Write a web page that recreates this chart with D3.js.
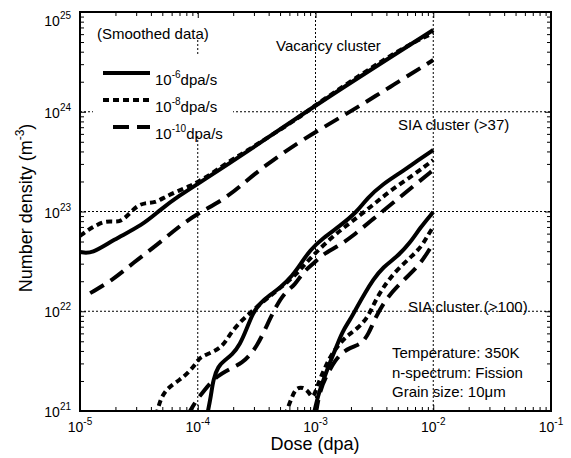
<!DOCTYPE html>
<html><head><meta charset="utf-8">
<script src="https://cdn.jsdelivr.net/npm/d3@7"></script>
<style>body{margin:0;background:#fff}svg{display:block}text{font-family:"Liberation Sans",Arial,sans-serif;fill:#000}</style>
</head><body><svg id="c" width="571" height="458"></svg>
<script>
// ---- data (dose in dpa, number density in m^-3) ----
const xTicks = [1e-5, 1e-4, 1e-3, 1e-2, 1e-1];
const xTickExp = ["-5", "-4", "-3", "-2", "-1"];
const yTicks = [1e21, 1e22, 1e23, 1e24, 1e25];
const yTickExp = ["21", "22", "23", "24", "25"];
const legendLabels = ["-6", "-8", "-10"];

// Vacancy cluster
const vac6Dose = [1e-5, 1.26e-5, 1.9e-5, 3.43e-5, 4.78e-5, 7.07e-5, 1.0e-4, 2.78e-4, 1e-3, 1e-2];
const vac6Dens = [3.93e22, 3.75e22, 5.18e22, 7.33e22, 1.04e23, 1.46e23, 1.89e23, 4.14e23, 1.17e24, 6.6e24];
const vac8Dose = [1e-5, 1.17e-5, 1.34e-5, 1.63e-5, 1.98e-5, 2.27e-5, 2.66e-5, 3.05e-5, 3.56e-5, 4.34e-5, 5.27e-5, 6.8e-5, 8.6e-5, 1e-4, 1.27e-4, 1.7e-4, 2.52e-4, 4.11e-4, 7.38e-4, 1e-3, 1.96e-3, 3.53e-3, 6.35e-3, 1e-2];
const vac8Dens = [5.68e22, 6.53e22, 7.16e22, 8.04e22, 7.85e22, 8.04e22, 9.66e22, 1.14e23, 1.22e23, 1.22e23, 1.4e23, 1.61e23, 1.8e23, 1.98e23, 2.32e23, 2.99e23, 3.95e23, 5.71e23, 8.85e23, 1.17e24, 1.99e24, 3.15e24, 4.78e24, 6.16e24];
const vac10Dose = [1.22e-5, 1.9e-5, 2.82e-5, 4.51e-5, 6.66e-5, 9.8e-5, 1.64e-4, 2.42e-4, 3.58e-4, 7.83e-4, 1.96e-3, 4.29e-3, 1e-2];
const vac10Dens = [1.52e22, 2.06e22, 3.05e22, 4.61e22, 6.84e22, 9.44e22, 1.3e23, 1.89e23, 2.79e23, 5.33e23, 9.94e23, 1.77e24, 3.3e24];

// SIA cluster (>37)
const s37_6Dose = [1.2e-4, 1.3e-4, 1.35e-4, 1.49e-4, 1.7e-4, 1.95e-4, 2.28e-4, 2.62e-4, 2.94e-4, 3.38e-4, 4.11e-4, 5.0e-4, 6.44e-4, 7.38e-4, 8.98e-4, 1.16e-3, 1.61e-3, 2.25e-3, 2.74e-3, 3.74e-3, 5.22e-3, 7.28e-3, 1e-2];
const s37_6Dens = [9.0e20, 1.45e21, 2.05e21, 2.82e21, 3.24e21, 3.64e21, 4.59e21, 6.79e21, 9.6e21, 1.21e22, 1.46e22, 1.71e22, 2.31e22, 2.91e22, 4.11e22, 5.42e22, 7.16e22, 9.89e22, 1.36e23, 1.89e23, 2.43e23, 3.21e23, 4.14e23];
const s37_8Dose = [4.45e-5, 4.78e-5, 5.48e-5, 7.07e-5, 8.59e-5, 9.86e-5, 1.045e-4, 1.35e-4, 1.64e-4, 1.88e-4, 2.28e-4, 2.78e-4, 3.38e-4, 4.11e-4, 5.0e-4, 6.97e-4, 8.98e-4, 1.41e-3, 1.96e-3, 3.02e-3, 4.29e-3, 7.0e-3, 1e-2];
const s37_8Dens = [9.0e20, 1.29e21, 1.7e21, 2.05e21, 2.52e21, 3.1e21, 3.48e21, 3.9e21, 4.49e21, 5.92e21, 7.8e21, 9.6e21, 1.18e22, 1.42e22, 1.71e22, 2.36e22, 3.42e22, 5.68e22, 7.67e22, 1.14e23, 1.61e23, 2.38e23, 3.28e23];
const s37_10Dose = [8.1e-5, 9.48e-5, 1.11e-4, 1.4e-4, 1.95e-4, 2.38e-4, 2.78e-4, 3.18e-4, 3.72e-4, 4.53e-4, 5.51e-4, 6.7e-4, 7.83e-4, 9.52e-4, 1.16e-3, 1.52e-3, 2.08e-3, 3.08e-3, 4.55e-3, 7.0e-3, 1e-2];
const s37_10Dens = [8.8e20, 1.23e21, 1.55e21, 2.19e21, 2.7e21, 3.03e21, 3.64e21, 4.49e21, 6.49e21, 1.08e22, 1.56e22, 1.83e22, 2.47e22, 2.98e22, 3.75e22, 4.41e22, 5.68e22, 8.41e22, 1.22e23, 1.85e23, 2.61e23];

// SIA cluster (>100)
const s100_6Dose = [9.6e-4, 1.03e-3, 1.09e-3, 1.25e-3, 1.47e-3, 1.68e-3, 1.96e-3, 2.25e-3, 2.63e-3, 3.08e-3, 3.74e-3, 4.92e-3, 6.35e-3, 7.71e-3, 1e-2];
const s100_6Dens = [9.0e20, 1.29e21, 1.63e21, 2.58e21, 4.09e21, 6.19e21, 8.17e21, 1.1e22, 1.52e22, 2.06e22, 2.78e22, 3.5e22, 4.83e22, 6.84e22, 9.89e22];
const s100_8Dose = [5.5e-4, 6.31e-4, 6.82e-4, 7.83e-4, 8.81e-4, 9.52e-4, 1.05e-3, 1.16e-3, 1.28e-3, 1.41e-3, 1.65e-3, 1.89e-3, 2.3e-3, 2.74e-3, 3.02e-3, 3.33e-3, 3.74e-3, 4.29e-3, 5.22e-3, 6.61e-3, 8.02e-3, 9.02e-3, 1e-2];
const s100_8Dens = [9.0e20, 1.38e21, 1.7e21, 1.74e21, 1.55e21, 1.29e21, 1.87e21, 2.46e21, 3.17e21, 3.9e21, 4.92e21, 5.78e21, 6.79e21, 8.55e21, 1.08e22, 1.36e22, 1.71e22, 2.15e22, 2.78e22, 3.58e22, 4.51e22, 5.81e22, 7.0e22];
const s100_10Dose = [1.0e-3, 1.09e-3, 1.25e-3, 1.47e-3, 1.71e-3, 1.96e-3, 2.3e-3, 2.53e-3, 2.84e-3, 3.08e-3, 3.74e-3, 5.03e-3, 7.41e-3, 9.02e-3, 1e-2];
const s100_10Dens = [9.0e20, 1.63e21, 2.3e21, 3.24e21, 3.9e21, 4.29e21, 4.59e21, 4.92e21, 6.05e21, 7.62e21, 1.21e22, 1.83e22, 2.78e22, 3.93e22, 4.83e22];

// ---- chart ----
const svg = d3.select("#c");
const L = 80, R = 551, T = 12, B = 411;
const x = d3.scaleLog().domain([1e-5, 1e-1]).range([L, R]);
const y = d3.scaleLog().domain([1e21, 1e25]).range([B, T]);

svg.append("defs").append("clipPath").attr("id", "clip")
  .append("rect").attr("x", L).attr("y", T).attr("width", R - L).attr("height", B - T);

// grid
const grid = svg.append("g").attr("stroke", "#000").attr("stroke-width", 1).attr("stroke-dasharray", "2,2");
[1e-4, 1e-3, 1e-2].forEach(v => grid.append("line").attr("x1", x(v)).attr("x2", x(v)).attr("y1", T).attr("y2", B));
[1e22, 1e23, 1e24].forEach(v => grid.append("line").attr("y1", y(v)).attr("y2", y(v)).attr("x1", L).attr("x2", R));

// white boxes behind legend / note
svg.append("rect").attr("x", 93).attr("y", 14).attr("width", 122).attr("height", 26).attr("fill", "#fff");
svg.append("rect").attr("x", 93).attr("y", 55).attr("width", 140).attr("height", 81).attr("fill", "#fff");

// minor tick values
const minorX = [], minorY = [];
for (let e = -5; e < -1; e++) for (let m = 2; m <= 9; m++) minorX.push(m * Math.pow(10, e));
for (let e = 21; e < 25; e++) for (let m = 2; m <= 9; m++) minorY.push(m * Math.pow(10, e));

function ticks(axisFn, scale, vals, size, tr) {
  const g = svg.append("g").attr("transform", tr)
    .call(axisFn(scale).tickValues(vals).tickSize(-size).tickFormat(""));
  g.select(".domain").remove();
  g.selectAll(".tick line").attr("stroke", "#000").attr("stroke-width", 1);
}
ticks(d3.axisBottom, x, xTicks, 6, `translate(0,${B})`);
ticks(d3.axisBottom, x, minorX, 4, `translate(0,${B})`);
ticks(d3.axisTop, x, xTicks, 6, `translate(0,${T})`);
ticks(d3.axisTop, x, minorX, 4, `translate(0,${T})`);
ticks(d3.axisLeft, y, yTicks, 6, `translate(${L},0)`);
ticks(d3.axisLeft, y, minorY, 4, `translate(${L},0)`);
ticks(d3.axisRight, y, yTicks, 6, `translate(${R},0)`);
ticks(d3.axisRight, y, minorY, 4, `translate(${R},0)`);

// frame
svg.append("rect").attr("x", L).attr("y", T).attr("width", R - L).attr("height", B - T)
  .attr("fill", "none").attr("stroke", "#000").attr("stroke-width", 2);

// tick labels
xTicks.forEach((v, i) => {
  const t = svg.append("text").attr("x", x(v)).attr("y", 432).attr("text-anchor", "middle").attr("font-size", 14);
  t.append("tspan").text("10");
  t.append("tspan").attr("font-size", 10).attr("dy", -7).text(xTickExp[i]);
});
yTicks.forEach((v, i) => {
  const yy = y(v) + 6 + (v === 1e25 ? 8 : 0);
  const t = svg.append("text").attr("x", 71).attr("y", yy).attr("text-anchor", "end").attr("font-size", 14);
  t.append("tspan").text("10");
  t.append("tspan").attr("font-size", 10).attr("dy", -7).text(yTickExp[i]);
});

// axis titles
svg.append("text").attr("x", 315).attr("y", 450).attr("text-anchor", "middle").attr("font-size", 18).text("Dose (dpa)");
const yt = svg.append("text").attr("transform", "translate(32,208) rotate(-90)").attr("text-anchor", "middle").attr("font-size", 18);
yt.append("tspan").text("Number density (m");
yt.append("tspan").attr("font-size", 12).attr("dy", -8).text("-3");
yt.append("tspan").attr("dy", 8).text(")");

// series
const styles = { s6: null, s8: "6,4", s10: "16,8" };
const series = [
  [vac6Dose, vac6Dens, styles.s6], [vac8Dose, vac8Dens, styles.s8], [vac10Dose, vac10Dens, styles.s10],
  [s37_6Dose, s37_6Dens, styles.s6], [s37_8Dose, s37_8Dens, styles.s8], [s37_10Dose, s37_10Dens, styles.s10],
  [s100_6Dose, s100_6Dens, styles.s6], [s100_8Dose, s100_8Dens, styles.s8], [s100_10Dose, s100_10Dens, styles.s10]
];
const line = d3.line().x(d => x(d[0])).y(d => y(d[1])).curve(d3.curveBasis);
const cg = svg.append("g").attr("clip-path", "url(#clip)");
series.forEach(([xs, ys, dash]) => {
  cg.append("path").attr("d", line(xs.map((d, i) => [d, ys[i]])))
    .attr("fill", "none").attr("stroke", "#000").attr("stroke-width", 4)
    .attr("stroke-linejoin", "round")
    .attr("stroke-dasharray", dash);
});

// legend
const legY = [73, 100, 127], legX1 = [103, 103, 113];
const legDash = [styles.s6, styles.s8, styles.s10];
legendLabels.forEach((lab, i) => {
  svg.append("line").attr("x1", legX1[i]).attr("x2", 150).attr("y1", legY[i]).attr("y2", legY[i])
    .attr("stroke", "#000").attr("stroke-width", 4).attr("stroke-dasharray", legDash[i]);
  const t = svg.append("text").attr("x", 155).attr("y", legY[i] + 12).attr("font-size", 15);
  t.append("tspan").text("10");
  t.append("tspan").attr("font-size", 10).attr("dy", -7).text(lab);
  t.append("tspan").attr("dy", 7).text("dpa/s");
});

// annotations
const ann = [
  ["(Smoothed data)", 97, 39],
  ["Vacancy cluster", 276, 51],
  ["SIA cluster (>37)", 398, 130],
  ["SIA cluster (>100)", 408, 312],
  ["Temperature: 350K", 392, 358],
  ["n-spectrum: Fission", 392, 378],
  ["Grain size: 10\u03bcm", 392, 397]
];
ann.forEach(([s, ax, ay]) => svg.append("text").attr("x", ax).attr("y", ay).attr("font-size", 15).text(s));
</script></body></html>
